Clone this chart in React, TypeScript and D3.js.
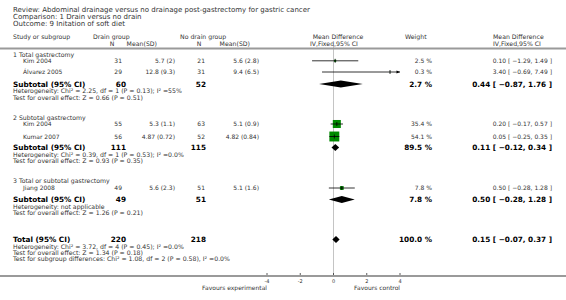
import React from "react";
import * as d3 from "d3";

// ---------- data ----------
const titleLines = [
  "Review:  Abdominal drainage versus no drainage post-gastrectomy for gastric cancer",
  "Comparison:  1 Drain versus no drain",
  "Outcome:  9 Initation of soft diet",
];

const groupNames = [
  "1 Total gastrectomy",
  "2 Subtotal gastrectomy",
  "3 Total or subtotal gastrectomy",
];

const studyNames = ["Kim 2004", "Álvarez 2005", "Kim 2004", "Kumar 2007", "Jiang 2008"];
const studyGroup = [0, 0, 1, 1, 2];
const drainN = [31, 29, 55, 56, 49];
const drainMeanSD = ["5.7 (2)", "12.8 (9.3)", "5.3 (1.1)", "4.87 (0.72)", "5.6 (2.3)"];
const noDrainN = [21, 31, 63, 52, 51];
const noDrainMeanSD = ["5.6 (2.8)", "9.4 (6.5)", "5.1 (0.9)", "4.82 (0.84)", "5.1 (1.6)"];
const studyWeight = [2.5, 0.3, 35.4, 54.1, 7.8];
const studyMD = [0.1, 3.4, 0.2, 0.05, 0.5];
const studyLo = [-1.29, -0.69, -0.17, -0.25, -0.28];
const studyHi = [1.49, 7.49, 0.57, 0.35, 1.28];

const subDrainN = [60, 111, 49];
const subNoDrainN = [52, 115, 51];
const subWeight = [2.7, 89.5, 7.8];
const subMD = [0.44, 0.11, 0.5];
const subLo = [-0.87, -0.12, -0.28];
const subHi = [1.76, 0.34, 1.28];
const subHet = [
  "Heterogeneity: Chi² = 2.25, df = 1 (P = 0.13); I² =55%",
  "Heterogeneity: Chi² = 0.39, df = 1 (P = 0.53); I² =0.0%",
  "Heterogeneity: not applicable",
];
const subTest = [
  "Test for overall effect: Z = 0.66 (P = 0.51)",
  "Test for overall effect: Z = 0.93 (P = 0.35)",
  "Test for overall effect: Z = 1.26 (P = 0.21)",
];

const totalDrainN = 220;
const totalNoDrainN = 218;
const totalWeight = 100.0;
const totalMD = 0.15;
const totalLo = -0.07;
const totalHi = 0.37;
const totalLines = [
  "Heterogeneity: Chi² = 3.72, df = 4 (P = 0.45); I² =0.0%",
  "Test for overall effect: Z = 1.34 (P = 0.18)",
  "Test for subgroup differences: Chi² = 1.08, df = 2 (P = 0.58), I² =0.0%",
];

const axisTicks = [-4, -2, 0, 2, 4];
const favoursLeft = "Favours experimental";
const favoursRight = "Favours control";

// ---------- layout ----------
const W = 566;
const H = 300;
const FONT = "DejaVu Sans, Verdana, sans-serif";
const GREEN = "#008a00";
const TXT = "#333";
const S_TITLE = 7;
const S_HEAD = 6.2;
const S_GROUP = 6.2;
const S_ROW = 6;
const S_NOTE = 6.2;
const S_BOLD = 7.3;

const x = d3.scaleLinear().domain([-4, 4]).range([267, 400]);

const groupLayout = [
  { head: 54.5, studies: [60.8, 72], sub: 84, het: 91.3, test: 97.8 },
  { head: 117.5, studies: [124, 136.5], sub: 147.5, het: 154.5, test: 161 },
  { head: 181, studies: [188], sub: 199.5, het: 206.5, test: 213 },
];
const totalY = 239.5;
const totalLineYs = [246.5, 252.7, 258.9];
const axisY = 276;

const colNameX = 13;
const colStudyX = 23;
const colDrainN = 122;
const colDrainMean = 175;
const colNoN = 205;
const colNoMean = 259;
const colWeight = 432;
const colCI = 552;

const fmt2 = d3.format(".2f");
const ciText = (m: number, l: number, h: number) =>
  `${fmt2(m)} [ ${fmt2(l)}, ${fmt2(h)} ]`;

function Txt(props: any) {
  const { size = S_ROW, bold = false, anchor = "start", children, ...rest } = props;
  return (
    <text
      fontFamily={FONT}
      fontSize={size}
      fontWeight={bold ? "bold" : "normal"}
      fill={bold ? "#000" : TXT}
      textAnchor={anchor}
      dy="0.35em"
      {...rest}
    >
      {children}
    </text>
  );
}

function Diamond({ y, m, l, h }: { y: number; m: number; l: number; h: number }) {
  const hh = 3.6;
  const path = d3.path();
  path.moveTo(x(l), y);
  path.lineTo(x(m), y - hh);
  path.lineTo(x(h), y);
  path.lineTo(x(m), y + hh);
  path.closePath();
  return <path d={path.toString()} fill="#000" />;
}

function StudyMark({ i, y }: { i: number; y: number }) {
  const side = 1.35 * Math.sqrt(studyWeight[i]);
  const lo = Math.max(studyLo[i], -4);
  const hi = Math.min(studyHi[i], 4);
  const arrowR = studyHi[i] > 4;
  const arrowL = studyLo[i] < -4;
  const cx = x(studyMD[i]);
  return (
    <g>
      <rect x={cx - side / 2} y={y - side / 2} width={side} height={side} fill={GREEN} />
      <line x1={x(lo)} x2={x(hi)} y1={y} y2={y} stroke="#000" strokeWidth={0.8} />
      <line x1={cx} x2={cx} y1={y - 2} y2={y + 2} stroke="#000" strokeWidth={0.8} />
      {arrowR && <path d={`M${x(4)},${y} l-3.5,-1.6 l0,3.2 z`} fill="#000" />}
      {arrowL && <path d={`M${x(-4)},${y} l3.5,-1.6 l0,3.2 z`} fill="#000" />}
    </g>
  );
}

export default function App() {
  return (
    <svg
      width={W}
      height={H}
      style={{ position: "absolute", left: 0, top: 0, background: "#fff" }}
    >
      <rect width={W} height={H} fill="#fff" />
      {titleLines.map((t, i) => (
        <Txt key={i} x={colNameX} y={10 + i * 7} size={S_TITLE}>
          {t}
        </Txt>
      ))}

      {/* column headers */}
      <Txt x={colNameX} y={37.3} size={S_HEAD}>Study or subgroup</Txt>
      <Txt x={93} y={37.3} size={S_HEAD}>Drain group</Txt>
      <Txt x={112} y={43.5} size={S_HEAD} anchor="middle">N</Txt>
      <Txt x={157} y={43.5} size={S_HEAD} anchor="end">Mean(SD)</Txt>
      <Txt x={180} y={37.3} size={S_HEAD}>No drain group</Txt>
      <Txt x={199} y={43.5} size={S_HEAD} anchor="middle">N</Txt>
      <Txt x={250} y={43.5} size={S_HEAD} anchor="end">Mean(SD)</Txt>
      <Txt x={338} y={37.3} size={S_HEAD} anchor="middle">Mean Difference</Txt>
      <Txt x={310} y={43.5} size={S_HEAD}>IV,Fixed,95% CI</Txt>
      <Txt x={405} y={37.3} size={S_HEAD}>Weight</Txt>
      <Txt x={493} y={37.3} size={S_HEAD}>Mean Difference</Txt>
      <Txt x={493} y={43.5} size={S_HEAD}>IV,Fixed,95% CI</Txt>

      {/* zero line */}
      <line x1={x(0)} x2={x(0)} y1={46} y2={axisY} stroke="#c4c4c4" strokeWidth={1} />
      {/* header separator */}
      <line x1={0} x2={W} y1={48.5} y2={48.5} stroke="#9a9a9a" strokeWidth={2} />

      {groupNames.map((g, gi) => {
        const L = groupLayout[gi];
        const idx = studyNames.map((_, i) => i).filter((i) => studyGroup[i] === gi);
        return (
          <g key={gi}>
            <Txt x={colNameX} y={L.head} size={S_GROUP}>{g}</Txt>
            {idx.map((si, k) => {
              const y = L.studies[k];
              return (
                <g key={si}>
                  <Txt x={colStudyX} y={y}>{studyNames[si]}</Txt>
                  <Txt x={colDrainN} y={y} anchor="end">{drainN[si]}</Txt>
                  <Txt x={colDrainMean} y={y} anchor="end">{drainMeanSD[si]}</Txt>
                  <Txt x={colNoN} y={y} anchor="end">{noDrainN[si]}</Txt>
                  <Txt x={colNoMean} y={y} anchor="end">{noDrainMeanSD[si]}</Txt>
                  <Txt x={colWeight} y={y} anchor="end">{studyWeight[si].toFixed(1)} %</Txt>
                  <Txt x={colCI} y={y} anchor="end">
                    {ciText(studyMD[si], studyLo[si], studyHi[si])}
                  </Txt>
                  <StudyMark i={si} y={y} />
                </g>
              );
            })}
            <Txt x={colNameX} y={L.sub} size={S_BOLD} bold>Subtotal (95% CI)</Txt>
            <Txt x={colDrainN + 4} y={L.sub} size={S_BOLD} bold anchor="end">{subDrainN[gi]}</Txt>
            <Txt x={colNoN + 1} y={L.sub} size={S_BOLD} bold anchor="end">{subNoDrainN[gi]}</Txt>
            <Txt x={colWeight} y={L.sub} size={S_BOLD} bold anchor="end">{subWeight[gi].toFixed(1)} %</Txt>
            <Txt x={colCI} y={L.sub} size={S_BOLD} bold anchor="end">
              {ciText(subMD[gi], subLo[gi], subHi[gi])}
            </Txt>
            <Diamond y={L.sub} m={subMD[gi]} l={subLo[gi]} h={subHi[gi]} />
            <Txt x={colNameX} y={L.het} size={S_NOTE}>{subHet[gi]}</Txt>
            <Txt x={colNameX} y={L.test} size={S_NOTE}>{subTest[gi]}</Txt>
          </g>
        );
      })}

      {/* total */}
      <Txt x={colNameX} y={totalY} size={S_BOLD} bold>Total (95% CI)</Txt>
      <Txt x={colDrainN + 4} y={totalY} size={S_BOLD} bold anchor="end">{totalDrainN}</Txt>
      <Txt x={colNoN + 1} y={totalY} size={S_BOLD} bold anchor="end">{totalNoDrainN}</Txt>
      <Txt x={colWeight} y={totalY} size={S_BOLD} bold anchor="end">{totalWeight.toFixed(1)} %</Txt>
      <Txt x={colCI} y={totalY} size={S_BOLD} bold anchor="end">{ciText(totalMD, totalLo, totalHi)}</Txt>
      <Diamond y={totalY} m={totalMD} l={totalLo} h={totalHi} />
      {totalLines.map((t, i) => (
        <Txt key={i} x={colNameX} y={totalLineYs[i]} size={S_NOTE}>{t}</Txt>
      ))}

      {/* axis */}
      <line x1={0} x2={W} y1={axisY} y2={axisY} stroke="#9a9a9a" strokeWidth={2} />
      {axisTicks.map((t) => (
        <g key={t}>
          <line x1={x(t)} x2={x(t)} y1={axisY - 3} y2={axisY - 1} stroke="#333" strokeWidth={0.8} />
          <Txt x={x(t)} y={axisY + 5.5} size={5} anchor="middle">{t}</Txt>
        </g>
      ))}
      <Txt x={x(-4)} y={axisY + 11.5} anchor="end">{favoursLeft}</Txt>
      <Txt x={x(4)} y={axisY + 11.5} anchor="end">{favoursRight}</Txt>
    </svg>
  );
}
